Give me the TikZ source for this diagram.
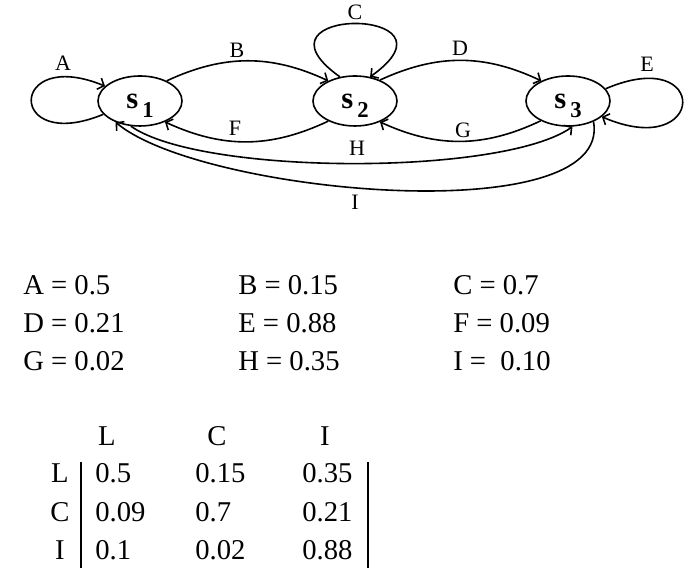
\documentclass[tikz,border=0pt]{standalone}
\usepackage{fontspec}
\setmainfont{Liberation Serif}
\usetikzlibrary{shapes.geometric,arrows.meta}

\newcommand{\stname}[1]{s\kern3pt\raisebox{-7pt}[0pt][0pt]{\fontsize{17pt}{17pt}\selectfont #1}}

\begin{document}
\begin{tikzpicture}[x=0.75pt,y=0.75pt,
	state/.style={draw, ellipse, line width=1.2pt, minimum width=63pt, minimum height=37.5pt, inner sep=0pt, font=\fontsize{23pt}{23pt}\selectfont\bfseries},
	trans/.style={line width=1.2pt, -{Straight Barb[length=4pt,width=9pt]}},
	lbl/.style={inner sep=0pt, font=\fontsize{16.5pt}{16.5pt}\selectfont},
	txt/.style={anchor=base west, inner sep=0pt, font=\fontsize{21.5pt}{21.5pt}\selectfont},
	hdr/.style={anchor=base, inner sep=0pt, font=\fontsize{21.5pt}{21.5pt}\selectfont}]
				\useasboundingbox (0,0) rectangle (694,580);
				
				\node [state] (s1) at (140,479) {\stname{1}};
				\node [state] (s2) at (355,479) {\stname{2}};
				\node [state] (s3) at (568,479) {\stname{3}};
				
				\draw [trans] (s1.200) .. controls +(-97,-40) and +(-97,40) .. (s1.157);
				\draw [trans] (s1.37) to[bend left=25] (s2.143);
				\draw [trans] (s2.122) .. controls +(-100,71) and +(100,71) .. (s2.58);
				\draw [trans] (s2.40) to[bend left=25] (s3.143);
				\draw [trans] (s3.18) .. controls +(105,45) and +(105,-45) .. (s3.-25);
				\draw [trans] (s2.217) to[bend left=25] (s1.320);
				\draw [trans] (s3.216) to[bend left=25] (s2.320);
				\draw [trans] (s1.250) to[out=-35,in=-145,looseness=0.5] (s3.280);
				\draw [trans] (s3.321) to[out=-80,in=-40,looseness=0.6] (s1.221);
				
				\node [lbl] (lA) at (63,517) {A};
				\node [lbl] (lB) at (237,530) {B};
				\node [lbl] (lC) at (355,568) {C};
				\node [lbl] (lD) at (460,532) {D};
				\node [lbl] (lE) at (647,516) {E};
				\node [lbl] (lF) at (235,452) {F};
				\node [lbl] (lG) at (463,450) {G};
				\node [lbl] (lH) at (357,432) {H};
				\node [lbl] (lI) at (355,378) {I};
				
				\node [txt] (pA) at (23,285) {A = 0.5};
				\node [txt] (pB) at (238,285) {B = 0.15};
				\node [txt] (pC) at (453,285) {C = 0.7};
				\node [txt] (pD) at (23,247) {D = 0.21};
				\node [txt] (pE) at (238,247) {E = 0.88};
				\node [txt] (pF) at (453,247) {F = 0.09};
				\node [txt] (pG) at (23,209) {G = 0.02};
				\node [txt] (pH) at (238,209) {H = 0.35};
				\node [txt] (pI) at (453,209) {I =\ \ 0.10};
				
				\node [hdr] (hL) at (107,134) {L};
				\node [hdr] (hC) at (217,134) {C};
				\node [hdr] (hI) at (325,134) {I};
				\node [hdr] (rL) at (60,97) {L};
				\node [hdr] (rC) at (60,58) {C};
				\node [hdr] (rI) at (60,20) {I};
				
				\node [txt] (mLL) at (95,97) {0.5};
				\node [txt] (mLC) at (195,97) {0.15};
				\node [txt] (mLI) at (302,97) {0.35};
				\node [txt] (mCL) at (95,58) {0.09};
				\node [txt] (mCC) at (195,58) {0.7};
				\node [txt] (mCI) at (302,58) {0.21};
				\node [txt] (mIL) at (95,20) {0.1};
				\node [txt] (mIC) at (195,20) {0.02};
				\node [txt] (mII) at (302,20) {0.88};
				
				\draw [line width=1.3pt] (81,118) -- (81,12);
				\draw [line width=1.3pt] (368,118) -- (368,12);
			\end{tikzpicture}
\end{document}
